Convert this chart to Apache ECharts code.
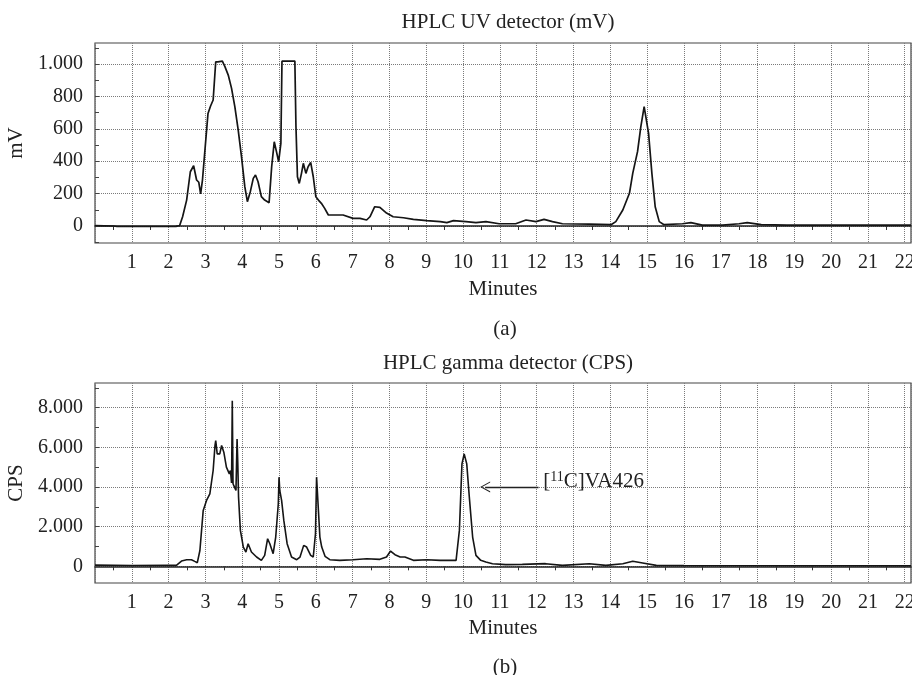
<!DOCTYPE html>
<html>
<head>
<meta charset="utf-8">
<script src="https://cdn.jsdelivr.net/npm/echarts@6/dist/echarts.min.js"></script>
<style>
html,body{margin:0;padding:0;background:#fff;}
#chart{width:912px;height:675px;}
</style>
</head>
<body>
<div id="chart"></div>
<script>
// ---- UV detector trace (minutes, mV) ----
var uvTime = [0,0.5,0.6,1.5,2.2,2.30,2.38,2.49,2.59,2.68,2.76,2.82,2.87,2.92,2.98,3.07,3.14,3.21,3.28,3.34,3.39,3.46,3.53,3.62,3.71,3.80,3.89,3.98,4.07,4.14,4.22,4.30,4.36,4.43,4.52,4.61,4.73,4.80,4.87,4.93,4.99,5.05,5.08,5.43,5.46,5.50,5.55,5.61,5.66,5.73,5.79,5.86,5.93,6.00,6.07,6.15,6.24,6.34,6.47,6.74,7.01,7.20,7.38,7.47,7.60,7.74,7.92,8.10,8.38,8.65,9.01,9.38,9.56,9.74,10.08,10.35,10.62,10.98,11.43,11.71,11.98,12.20,12.43,12.70,13.43,14.02,14.15,14.34,14.52,14.61,14.74,14.83,14.92,14.97,15.04,15.13,15.22,15.33,15.46,15.96,16.19,16.50,17.05,17.50,17.72,18.10,18.80,22.17];
var uvSignal = [2,0,-3,-3,-2,3,57,160,335,372,284,270,198,284,450,695,741,778,1014,1014,1008,1018,984,932,850,736,593,428,243,150,212,294,315,273,181,160,144,366,520,459,397,510,1018,1018,613,304,263,325,387,325,366,393,304,181,160,140,109,68,68,68,47,47,37,57,119,115,80,57,51,41,33,27,21,33,27,21,27,14,14,37,27,41,27,14,12,8,27,99,202,325,459,613,737,733,572,325,119,27,8,14,21,5,5,14,21,8,5,5];

// ---- Gamma detector trace (minutes, CPS) ----
var gammaTime = [0,1,2,2.21,2.35,2.49,2.62,2.71,2.78,2.85,2.94,3.03,3.12,3.21,3.26,3.28,3.32,3.39,3.44,3.50,3.57,3.65,3.68,3.71,3.73,3.75,3.79,3.83,3.86,3.88,3.90,3.95,4.03,4.10,4.16,4.25,4.39,4.52,4.61,4.69,4.75,4.84,4.91,4.98,5.00,5.02,5.07,5.13,5.22,5.34,5.48,5.57,5.67,5.75,5.86,5.93,5.99,6.02,6.06,6.09,6.11,6.16,6.25,6.38,6.65,7.01,7.38,7.74,7.92,8.03,8.15,8.29,8.42,8.65,9.01,9.38,9.74,9.81,9.90,9.97,10.03,10.10,10.17,10.26,10.35,10.48,10.62,10.80,11.16,11.61,12.24,12.70,13.43,13.88,14.34,14.61,14.88,15.25,16,22.17];
var gammaSignal = [60,40,50,50,268,335,335,250,185,800,2817,3320,3656,4830,6088,6340,5668,5668,6088,5752,5000,4660,4830,4200,8350,4160,3990,3824,6420,5165,3488,1811,973,721,1140,721,470,302,553,1392,1140,637,1476,3153,4494,3824,3320,2314,1140,470,335,470,1056,973,553,470,1643,4494,3153,3237,1476,973,503,335,302,335,386,352,470,771,587,470,470,302,335,302,302,302,1811,5165,5668,5165,3488,1476,553,302,218,134,84,100,134,50,134,50,134,252,168,50,40,30];

// ---- axis ticks and annotation ----
var uvTicks = [0,200,400,600,800,1000];
var uvMinorTicks = [-100,0,100,200,300,400,500,600,700,800,900,1000,1100];
var gammaTicks = [0,2000,4000,6000,8000];
var gammaMinorTicks = [0,1000,2000,3000,4000,5000,6000,7000,8000,9000];
var halfMinuteTicks = [0.5,1.5,2.5,3.5,4.5,5.5,6.5,7.5,8.5,9.5,10.5,11.5,12.5,13.5,14.5,15.5,16.5,17.5,18.5,19.5,20.5,21.5];
var peakLabel = '[{sup|11}C]VA426';
var arrowStart = [12.05, 4000];
var arrowEnd = [10.6, 4000];
var labelAnchor = [12.1, 4300];

function zip(a, b){ var r=[]; for (var i=0;i<a.length;i++) r.push([a[i], b[i]]); return r; }

var FONT = 'Liberation Serif';
var TXT = '#222';
var XMAX = 22.17;

function fmtThousands(v){ return v >= 1000 ? (v/1000) + '.000' : String(v); }

function mainX(grid, gap){
  return {
    type:'value', gridIndex:grid, min:0, max:XMAX, interval:1,
    name:'Minutes', nameLocation:'middle', nameGap:gap,
    nameTextStyle:{fontFamily:FONT,fontSize:21,color:TXT},
    axisLine:{show:false,onZero:false},
    axisTick:{show:false},
    axisLabel:{fontFamily:FONT,fontSize:20,color:TXT,margin:10,showMaxLabel:false,
      formatter:function(v){ return (v>0 && Math.abs(v-Math.round(v))<1e-6) ? String(Math.round(v)) : ''; }},
    splitLine:{show:true,lineStyle:{color:'#7a7a7a',type:'dotted',width:1}}
  };
}
function zeroX(grid){
  return {
    type:'value', gridIndex:grid, min:0, max:XMAX, position:'bottom',
    axisLine:{show:true,onZero:true,lineStyle:{color:'#222',width:1.5}},
    axisTick:{show:true,length:4,customValues:halfMinuteTicks,lineStyle:{color:'#333'}},
    axisLabel:{show:false},
    splitLine:{show:false}
  };
}
function mainY(grid,min,max,ticks,name,gap){
  return {
    type:'value', gridIndex:grid, min:min, max:max, position:'left',
    name:name, nameLocation:'middle', nameGap:gap, nameRotate:90,
    nameTextStyle:{fontFamily:FONT,fontSize:21,color:TXT},
    axisLine:{show:false,onZero:false},
    axisTick:{show:false,customValues:ticks},
    axisLabel:{customValues:ticks,fontFamily:FONT,fontSize:20,color:TXT,margin:12,formatter:fmtThousands},
    splitLine:{show:true,lineStyle:{color:'#7a7a7a',type:'dotted',width:1}}
  };
}
function minorY(grid,min,max,ticks){
  return {
    type:'value', gridIndex:grid, min:min, max:max, position:'left', offset:0,
    axisLine:{show:false,onZero:false},
    axisTick:{show:true,inside:true,length:4,customValues:ticks,lineStyle:{color:'#444'}},
    axisLabel:{show:false},
    splitLine:{show:false}
  };
}

var chart = echarts.init(document.getElementById('chart'), null, {renderer:'canvas'});
chart.setOption({
  animation:false,
  backgroundColor:'#ffffff',
  title:[
    {text:'HPLC UV detector (mV)', left:503, top:7, textAlign:'center', textStyle:{fontFamily:FONT,fontSize:21,fontWeight:'normal',color:TXT}},
    {text:'(a)', left:500, top:314, textAlign:'center', textStyle:{fontFamily:FONT,fontSize:21,fontWeight:'normal',color:TXT}},
    {text:'HPLC gamma detector (CPS)', left:503, top:348, textAlign:'center', textStyle:{fontFamily:FONT,fontSize:21,fontWeight:'normal',color:TXT}},
    {text:'(b)', left:500, top:652, textAlign:'center', textStyle:{fontFamily:FONT,fontSize:21,fontWeight:'normal',color:TXT}}
  ],
  grid:[
    {left:95, top:43, width:816, height:200, show:true, borderColor:'#444', borderWidth:1.2, backgroundColor:'transparent', outerBoundsMode:'none', containLabel:false},
    {left:95, top:383, width:816, height:200, show:true, borderColor:'#444', borderWidth:1.2, backgroundColor:'transparent', outerBoundsMode:'none', containLabel:false}
  ],
  xAxis:[ mainX(0,36), zeroX(0), mainX(1,35), zeroX(1) ],
  yAxis:[
    mainY(0,-105,1130,uvTicks,'mV',62),
    minorY(0,-105,1130,uvMinorTicks),
    mainY(1,-840,9240,gammaTicks,'CPS',65),
    minorY(1,-840,9240,gammaMinorTicks)
  ],
  series:[
    {
      type:'line', xAxisIndex:0, yAxisIndex:0, data:zip(uvTime,uvSignal),
      showSymbol:false, symbol:'none', smooth:false,
      lineStyle:{color:'#151515',width:1.7}, silent:true, z:5
    },
    {
      type:'line', xAxisIndex:2, yAxisIndex:2, data:zip(gammaTime,gammaSignal),
      showSymbol:false, symbol:'none', smooth:false,
      lineStyle:{color:'#151515',width:1.6}, silent:true, z:5,
      markLine:{
        silent:true, animation:false,
        lineStyle:{color:'#222',width:1.3,type:'solid'},
        label:{show:false},
        symbolSize:[11,10],
        data:[[
          {coord:arrowStart, symbol:'none'},
          {coord:arrowEnd, symbol:'path://M0,10 L5,0 L10,10 L9,10 L5,2 L1,10 Z'}
        ]]
      },
      markPoint:{
        silent:true, animation:false,
        symbol:'circle', symbolSize:0,
        data:[{coord:labelAnchor}],
        label:{
          show:true, position:'right', distance:3,
          formatter:peakLabel,
          fontFamily:FONT, fontSize:21, color:TXT, lineHeight:22,
          rich:{ sup:{fontFamily:FONT,fontSize:14,color:TXT,verticalAlign:'top',lineHeight:22} }
        }
      }
    }
  ]
});
</script>
</body>
</html>
